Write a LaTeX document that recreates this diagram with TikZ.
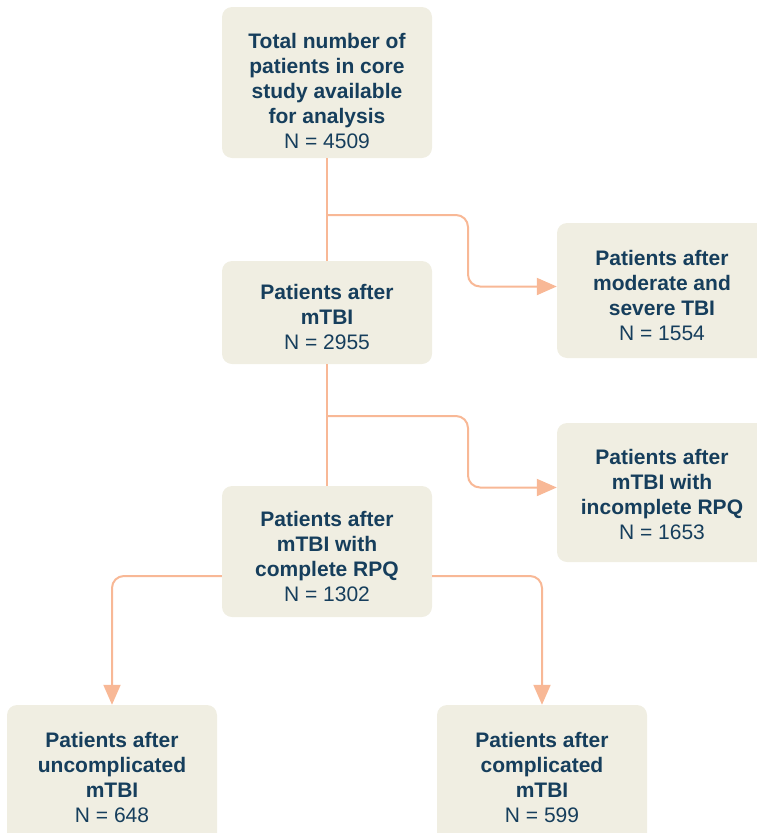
\documentclass[tikz,border=0pt]{standalone}
\usepackage{fontspec}
\setmainfont{Liberation Sans}
\usetikzlibrary{arrows.meta,positioning,calc}

\definecolor{boxfill}{RGB}{240,238,226}
\definecolor{boxtext}{RGB}{22,62,92}
\definecolor{flowline}{RGB}{248,184,150}

% push the first line of a box down
\newcommand{\dropline}[1]{\rule{0pt}{#1}}

\begin{document}
\begin{tikzpicture}[
  x=1pt, y=-1pt,
  font=\fontsize{21}{25}\selectfont,
  flowbox/.style={fill=boxfill, text=boxtext, rounded corners=10pt, align=center, minimum width=210pt, inner sep=4pt},
  line/.style={draw=flowline, line width=2pt, rounded corners=12pt},
  arr/.style={line, -{Triangle[length=20pt,width=17pt]}}
]
  \useasboundingbox (0,0) rectangle (756,833);

  \node[flowbox, minimum height=151pt] (total) at (327,82.5) {\dropline{33pt}\textbf{Total number of}\\\textbf{patients in core}\\\textbf{study available}\\\textbf{for analysis}\\N = 4509};
  \node[flowbox, minimum height=103pt] (mtbi) at (327,312.5) {\dropline{25pt}\textbf{Patients after}\\\textbf{mTBI}\\N = 2955};
  \node[flowbox, minimum height=131pt] (complete) at (327,551.5) {\dropline{26pt}\textbf{Patients after}\\\textbf{mTBI with}\\\textbf{complete RPQ}\\N = 1302};
  \node[flowbox, minimum height=135pt] (severe) at (662,290.5) {\dropline{25pt}\textbf{Patients after}\\\textbf{moderate and}\\\textbf{severe TBI}\\N = 1554};
  \node[flowbox, minimum height=139pt] (incomplete) at (662,492.5) {\dropline{19pt}\textbf{Patients after}\\\textbf{mTBI with}\\\textbf{incomplete RPQ}\\N = 1653};
  \node[flowbox, minimum height=145pt] (uncomp) at (112,777.5) {\textbf{Patients after}\\\textbf{uncomplicated}\\\textbf{mTBI}\\N = 648};
  \node[flowbox, minimum height=145pt] (comp) at (542,777.5) {\textbf{Patients after}\\\textbf{complicated}\\\textbf{mTBI}\\N = 599};

  % branch points on the main line
  \coordinate (b1) at (327,215);
  \coordinate (k1) at (468,215);
  \coordinate (b2) at (327,416);
  \coordinate (k2) at (468,416);

  \draw[line] (total) -- (mtbi);
  \draw[line] (mtbi) -- (complete);
  \draw[arr] (b1) -- (k1) |- ([yshift=4pt]severe.west);
  \draw[arr] (b2) -- (k2) |- ([yshift=5pt]incomplete.west);
  \draw[arr] ([yshift=-24.5pt]complete.west) -| (uncomp.north);
  \draw[arr] ([yshift=-24.5pt]complete.east) -| (comp.north);
\end{tikzpicture}
\end{document}
